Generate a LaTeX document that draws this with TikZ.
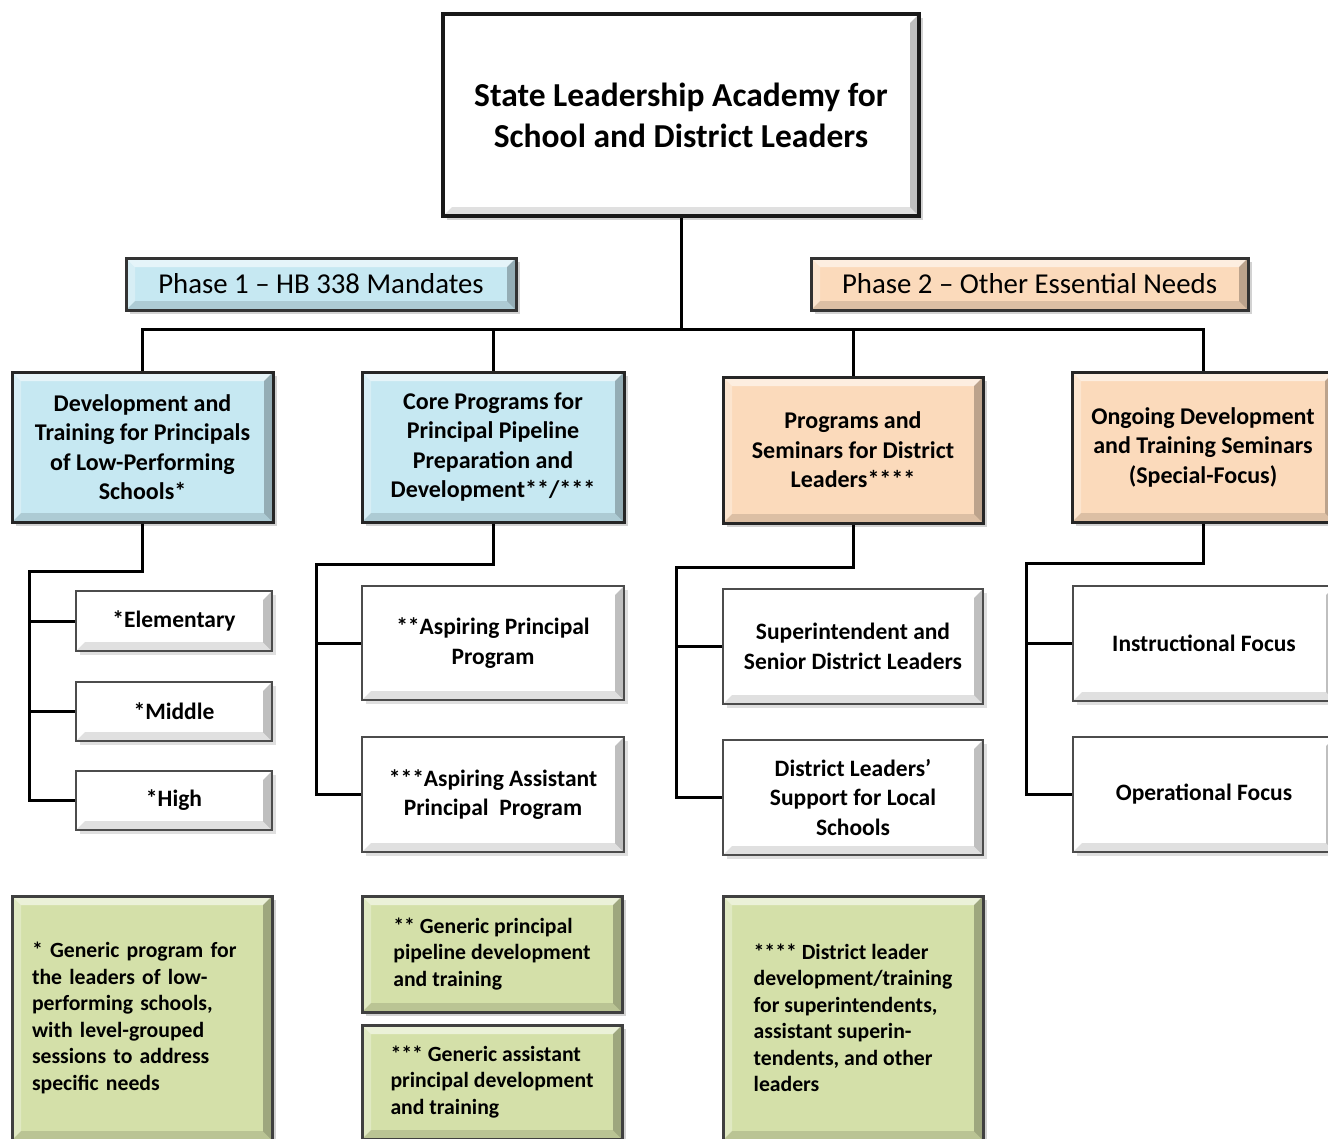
\documentclass[tikz,border=0pt]{standalone}
\usepackage{fontspec}
\setmainfont{Carlito}
\usetikzlibrary{shadows}
\definecolor{phaseblue}{HTML}{C6E8F2}
\definecolor{phasepeach}{HTML}{FBDABB}
\definecolor{notegreen}{HTML}{D4E0A9}

\begin{document}
\begin{tikzpicture}[x=1pt,y=-1pt,line width=3pt,
    bevel/.style={path picture={
        \fill[white,opacity=.55] (path picture bounding box.north west) -- (path picture bounding box.north east)
            -- ([xshift=-9pt,yshift=-9pt]path picture bounding box.north east) -- ([xshift=9pt,yshift=-9pt]path picture bounding box.north west) -- cycle;
        \fill[white,opacity=.3] (path picture bounding box.north west) -- ([xshift=9pt,yshift=-9pt]path picture bounding box.north west)
            -- ([xshift=9pt,yshift=9pt]path picture bounding box.south west) -- (path picture bounding box.south west) -- cycle;
        \fill[black,opacity=.12] (path picture bounding box.south west) -- (path picture bounding box.south east)
            -- ([xshift=-9pt,yshift=9pt]path picture bounding box.south east) -- ([xshift=9pt,yshift=9pt]path picture bounding box.south west) -- cycle;
        \fill[black,opacity=.25] (path picture bounding box.north east) -- ([xshift=-9pt,yshift=-9pt]path picture bounding box.north east)
            -- ([xshift=-9pt,yshift=9pt]path picture bounding box.south east) -- (path picture bounding box.south east) -- cycle;}},
    top box/.style={draw=black!90,line width=4pt,fill=white,minimum width=476pt,minimum height=202pt,align=center,inner sep=0pt,font=\bfseries\fontsize{33.5}{41}\selectfont,bevel,drop shadow={shadow xshift=4pt,shadow yshift=-4pt,fill=black!35}},
    phase box/.style={draw=black!80,line width=3pt,minimum height=52pt,inner sep=0pt,font=\fontsize{28.8}{34}\selectfont,bevel,drop shadow={shadow xshift=4pt,shadow yshift=-4pt,fill=black!35}},
    main box/.style={draw=black!85,line width=3pt,minimum width=261pt,minimum height=150pt,align=center,inner sep=0pt,font=\bfseries\fontsize{24}{29.5}\selectfont,bevel,drop shadow={shadow xshift=4pt,shadow yshift=-4pt,fill=black!35}},
    sub box/.style={draw=black!70,line width=2.5pt,fill=white,minimum width=261pt,align=center,inner sep=0pt,font=\bfseries\fontsize{23.5}{29.5}\selectfont,bevel,drop shadow={shadow xshift=4pt,shadow yshift=-4pt,fill=black!25}},
    note box/.style={draw=black!75,line width=3pt,fill=notegreen,minimum width=260pt,align=left,inner sep=0pt,font=\bfseries\fontsize{21.7}{26.5}\selectfont,bevel,drop shadow={shadow xshift=4pt,shadow yshift=-4pt,fill=black!35}}]

    \useasboundingbox (0,0) rectangle (1328,1138);
    \clip (0,0) rectangle (1328,1138);

    % top of the chart
    \node[top box] (title) at (681,115) {State Leadership Academy for\\School and District Leaders};
    \node[phase box,fill=phaseblue,minimum width=390pt] (ph1) at (321,284) {Phase 1 -- HB 338 Mandates};
    \node[phase box,fill=phasepeach,minimum width=437pt] (ph2) at (1029.5,284) {Phase 2 -- Other Essential Needs};

    % program boxes
    \node[main box,fill=phaseblue] (devA) at (142.5,447) {Development and\\Training for Principals\\of Low-Performing\\Schools*};
    \node[main box,fill=phaseblue,minimum width=262pt] (coreB) at (493,447) {Core Programs for\\Principal Pipeline\\Preparation and\\Development**/***};
    \node[main box,fill=phasepeach,minimum width=260pt,minimum height=146pt] (progC) at (853,450) {Programs and\\Seminars for District\\Leaders****};
    \node[main box,fill=phasepeach,minimum width=262pt] (ongD) at (1203,447) {Ongoing Development\\and Training Seminars\\(Special-Focus)};

    \coordinate (hub) at (681,329);
    \draw (title.south) -- (hub);
    \draw (devA.north) |- (hub) -| (ongD.north);
    \draw (coreB.north) -- (coreB.north |- hub);
    \draw (progC.north) -- (progC.north |- hub);

    % school levels
    \node[sub box,minimum width=196pt,minimum height=60pt] (elem) at (174,621) {*Elementary};
    \node[sub box,minimum width=196pt,minimum height=59pt] (mid) at (174,711.5) {*Middle};
    \node[sub box,minimum width=196pt,minimum height=59pt] (high) at (174,800.5) {*High};

    \coordinate (jA) at (29,571);
    \draw (devA.south) |- (jA) |- (high.west);
    \draw (jA |- elem.west) -- (elem.west);
    \draw (jA |- mid.west) -- (mid.west);

    % pipeline
    \node[sub box,minimum width=262pt,minimum height=114pt] (aspP) at (493,643) {**Aspiring Principal\\Program};
    \node[sub box,minimum width=262pt,minimum height=115pt] (aspA) at (493,794.5) {***Aspiring Assistant\\Principal\ \ Program};

    \coordinate (jB) at (316,564);
    \draw (coreB.south) |- (jB) |- (aspA.west);
    \draw (jB |- aspP.west) -- (aspP.west);

    % district leaders
    \node[sub box,minimum width=260pt,minimum height=115pt] (supt) at (853,646.5) {Superintendent and\\Senior District Leaders};
    \node[sub box,minimum width=260pt,minimum height=115pt] (dist) at (853,797.5) {District Leaders’\\Support for Local\\Schools};

    \coordinate (jC) at (676,567);
    \draw (progC.south) |- (jC) |- (dist.west);
    \draw (jC |- supt.west) -- (supt.west);

    % special focus
    \node[sub box,minimum width=262pt,minimum height=115pt] (instr) at (1204,643.5) {Instructional Focus};
    \node[sub box,minimum width=262pt,minimum height=115pt] (oper) at (1204,794.5) {Operational Focus};

    \coordinate (jD) at (1026,563);
    \draw (ongD.south) |- (jD) |- (oper.west);
    \draw (jD |- instr.west) -- (instr.west);

    % footnotes
    \node[note box,minimum height=244pt,text width=220pt,inner xsep=20pt] (n1) at (142,1018) {* Generic program for\\the leaders of low-\\performing schools,\\with level-grouped\\sessions to address\\specific needs};
    \node[note box,minimum height=116pt] (n2) at (492,954) {** Generic principal\\pipeline development\\and training};
    \node[note box,minimum height=114pt] (n3) at (492,1082) {*** Generic assistant\\principal development\\and training};
    \node[note box,minimum height=244pt] (n4) at (853,1018) {**** District leader\\development/training\\for superintendents,\\assistant superin-\\tendents, and other\\leaders};
\end{tikzpicture}
\end{document}
